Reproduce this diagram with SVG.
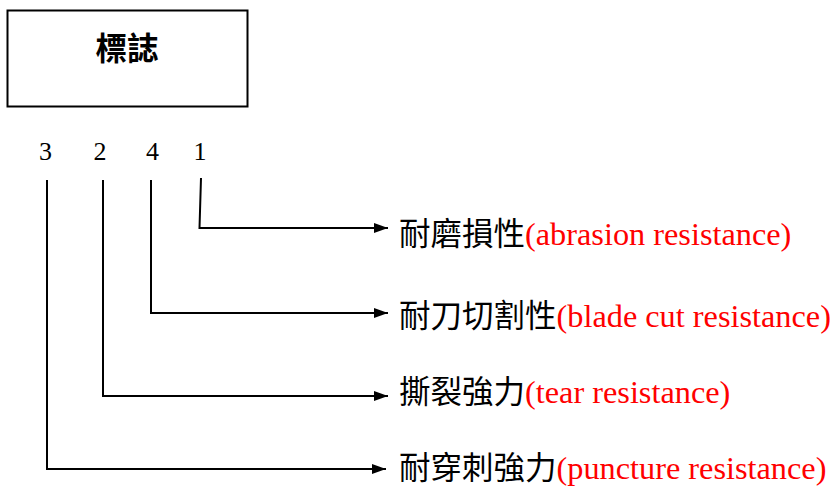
<svg xmlns="http://www.w3.org/2000/svg" width="832" height="487" viewBox="0 0 832 487">
<style>
.ln{fill:none;stroke:#000;stroke-width:2}
.cjk{font-family:"Noto Sans CJK TC","Noto Sans CJK SC",sans-serif;font-size:31.5px;fill:#000}
.en{font-family:"Liberation Serif",serif;font-size:32.3px;fill:#ff0000}
.num{font-family:"Liberation Serif",serif;font-size:26px;fill:#000}
</style>
<defs>
<marker id="ah" viewBox="0 0 14 10" refX="14" refY="5" markerWidth="14" markerHeight="10" markerUnits="userSpaceOnUse" orient="auto">
<path d="M0,0 L14,5 L0,10 Z" fill="#000"/>
</marker>
</defs>
<rect width="832" height="487" fill="#fff"/>
<g id="logo">
<rect x="7.5" y="10.5" width="240" height="96" fill="#fff" stroke="#000" stroke-width="2"/>
<text x="127" y="60" class="cjk" text-anchor="middle" font-size="29" font-weight="bold">標誌</text>
</g>
<g id="numbers">
<text x="45.5" y="160" class="num" text-anchor="middle">3</text>
<text x="100" y="160" class="num" text-anchor="middle">2</text>
<text x="152.5" y="160" class="num" text-anchor="middle">4</text>
<text x="200" y="160" class="num" text-anchor="middle">1</text>
</g>
<g id="connectors">
<path class="ln" d="M201,178 L199.5,228 L388,228" marker-end="url(#ah)"/>
<path class="ln" d="M151,180 L151,313 L388,313" marker-end="url(#ah)"/>
<path class="ln" d="M103,180 L103,396 L388,396" marker-end="url(#ah)"/>
<path class="ln" d="M47,180 L47,469 L386,469" marker-end="url(#ah)"/>
</g>
<g id="label1">
<text x="399" y="245"><tspan class="cjk">耐磨損性</tspan><tspan class="en">(abrasion resistance)</tspan></text>
</g>
<g id="label2">
<text x="399" y="327"><tspan class="cjk">耐刀切割性</tspan><tspan class="en">(blade cut resistance)</tspan></text>
</g>
<g id="label3">
<text x="399" y="403"><tspan class="cjk">撕裂強力</tspan><tspan class="en">(tear resistance)</tspan></text>
</g>
<g id="label4">
<text x="399" y="479"><tspan class="cjk">耐穿刺強力</tspan><tspan class="en">(puncture resistance)</tspan></text>
</g>
</svg>
